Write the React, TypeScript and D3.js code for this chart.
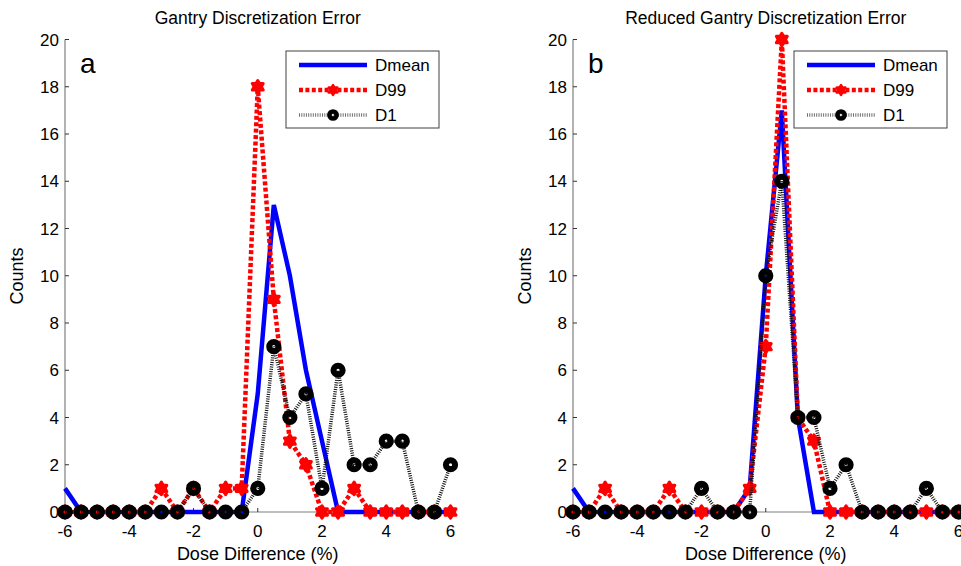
import React from "react";
import * as d3 from "d3";

const doseBins = [-6, -5.5, -5, -4.5, -4, -3.5, -3, -2.5, -2, -1.5, -1, -0.5, 0, 0.5, 1, 1.5, 2, 2.5, 3, 3.5, 4, 4.5, 5, 5.5, 6];

const dmeanA = [1, 0, 0, 0, 0, 0, 0, 0, 0, 0, 0, 0, 5, 13, 10, 6, 3, 0, 0, 0, 0, 0, 0, 0, 0];
const d99A = [0, 0, 0, 0, 0, 0, 1, 0, 1, 0, 1, 1, 18, 9, 3, 2, 0, 0, 1, 0, 0, 0, 0, 0, 0];
const d1A = [0, 0, 0, 0, 0, 0, 0, 0, 1, 0, 0, 0, 1, 7, 4, 5, 1, 6, 2, 2, 3, 3, 0, 0, 2];

const dmeanB = [1, 0, 0, 0, 0, 0, 0, 0, 0, 0, 0, 1, 10, 17, 4, 0, 0, 0, 0, 0, 0, 0, 0, 0, 0];
const d99B = [0, 0, 1, 0, 0, 0, 1, 0, 0, 0, 0, 1, 7, 20, 4, 3, 0, 0, 0, 0, 0, 0, 0, 0, 0];
const d1B = [0, 0, 0, 0, 0, 0, 0, 0, 1, 0, 0, 0, 10, 14, 4, 4, 1, 2, 0, 0, 0, 0, 1, 0, 0];

const xTicks = [-6, -4, -2, 0, 2, 4, 6];
const yTicks = [0, 2, 4, 6, 8, 10, 12, 14, 16, 18, 20];
const seriesNames = ["Dmean", "D99", "D1"];

const FONT = "'Liberation Sans', Arial, Helvetica, sans-serif";

function hexagram(R: number) {
  const r = R / Math.sqrt(3);
  const pts: [number, number][] = [];
  for (let i = 0; i < 12; i++) {
    const a = -Math.PI / 2 + (i * Math.PI) / 6;
    const rad = i % 2 === 0 ? R : r;
    pts.push([rad * Math.cos(a), rad * Math.sin(a)]);
  }
  return "M" + pts.map((p) => p[0].toFixed(2) + "," + p[1].toFixed(2)).join("L") + "Z";
}

type PanelProps = {
  x0: number;
  x1: number;
  title: string;
  letter: string;
  dmean: number[];
  d99: number[];
  d1: number[];
  legendX: number;
};

function Panel({ x0, x1, title, letter, dmean, d99, d1, legendX }: PanelProps) {
  const x = d3.scaleLinear().domain([-6, 6]).range([x0, x1]);
  const y = d3.scaleLinear().domain([0, 20]).range([512, 39.5]);
  const line = d3
    .line<number>()
    .x((_, i) => x(doseBins[i]))
    .y((d) => y(d));
  const star = hexagram(6.3);
  const starLegend = hexagram(5);
  const cx = (x0 + x1) / 2;
  const lw = 153;
  const ly = 51;
  const lh = 77;
  const rows = [65, 90, 115];
  const sx0 = legendX + 13;
  const sx1 = legendX + 81;
  const smid = (sx0 + sx1) / 2;
  return (
    <g>
      <text x={cx} y={24} textAnchor="middle" fontSize={17.5} fontFamily={FONT} fill="#000">
        {title}
      </text>
      {/* axes */}
      <line x1={x0} x2={x0} y1={y(20)} y2={y(0)} stroke="#7f7f7f" strokeWidth={1.2} />
      <line x1={x0} x2={x1} y1={y(0)} y2={y(0)} stroke="#7f7f7f" strokeWidth={1.2} />
      {yTicks.map((t) => (
        <g key={"y" + t}>
          <line x1={x0} x2={x0 + 4} y1={y(t)} y2={y(t)} stroke="#333" strokeWidth={1} />
          <text x={x0 - 6} y={y(t) + 6} textAnchor="end" fontSize={17} fontFamily={FONT}>
            {t}
          </text>
        </g>
      ))}
      {xTicks.map((t) => (
        <g key={"x" + t}>
          <line x1={x(t)} x2={x(t)} y1={y(0)} y2={y(0) - 4} stroke="#333" strokeWidth={1} />
          <text x={x(t)} y={537} textAnchor="middle" fontSize={17} fontFamily={FONT}>
            {t}
          </text>
        </g>
      ))}
      <text
        transform={`translate(${x0 - 42},276) rotate(-90)`}
        textAnchor="middle"
        fontSize={18}
        fontFamily={FONT}
      >
        Counts
      </text>
      <text x={cx} y={560} textAnchor="middle" fontSize={18} fontFamily={FONT}>
        Dose Difference (%)
      </text>
      <text x={x0 + 15} y={73} fontSize={28} fontFamily={FONT}>
        {letter}
      </text>

      {/* series */}
      <path d={line(dmean) || ""} fill="none" stroke="#0000ff" strokeWidth={4.5} strokeLinejoin="miter" />
      <path d={line(d99) || ""} fill="none" stroke="#ff0000" strokeWidth={4.5} strokeDasharray="4 2.4" />
      {d99.map((v, i) => (
        <path
          key={"s" + i}
          d={star}
          transform={`translate(${x(doseBins[i])},${y(v)})`}
          fill="#ff0000"
          stroke="#ff0000"
          strokeWidth={3}
          strokeLinejoin="round"
        />
      ))}
      <path d={line(d1) || ""} fill="none" stroke="#111" strokeWidth={3.5} strokeDasharray="1 1.3" />
      {d1.map((v, i) => (
        <circle key={"c" + i} cx={x(doseBins[i])} cy={y(v)} r={4.6} fill="none" stroke="#000" strokeWidth={6} />
      ))}

      {/* legend */}
      <rect x={legendX} y={ly} width={lw} height={lh} fill="#fff" stroke="#404040" strokeWidth={1} />
      <line x1={sx0} x2={sx1} y1={rows[0]} y2={rows[0]} stroke="#0000ff" strokeWidth={4.5} />
      <line x1={sx0} x2={sx1} y1={rows[1]} y2={rows[1]} stroke="#ff0000" strokeWidth={4.5} strokeDasharray="4 2.4" />
      <path d={starLegend} transform={`translate(${smid},${rows[1]})`} fill="#ff0000" stroke="#ff0000" strokeWidth={2.5} strokeLinejoin="round" />
      <line x1={sx0} x2={sx1} y1={rows[2]} y2={rows[2]} stroke="#111" strokeWidth={3.5} strokeDasharray="1 1.3" opacity={0.6} />
      <circle cx={smid} cy={rows[2]} r={3.6} fill="none" stroke="#000" strokeWidth={4.5} />
      {seriesNames.map((n, i) => (
        <text key={n} x={sx1 + 8} y={rows[i] + 6} fontSize={17} fontFamily={FONT}>
          {n}
        </text>
      ))}
    </g>
  );
}

export default function App() {
  return (
    <svg
      width={961}
      height={566}
      viewBox="0 0 961 566"
      style={{ position: "absolute", left: 0, top: 0, background: "#fff" }}
    >
      <rect x={0} y={0} width={961} height={566} fill="#fff" />
      <Panel
        x0={65}
        x1={450.5}
        title="Gantry Discretization Error"
        letter="a"
        dmean={dmeanA}
        d99={d99A}
        d1={d1A}
        legendX={286}
      />
      <Panel
        x0={573}
        x1={958.5}
        title="Reduced Gantry Discretization Error"
        letter="b"
        dmean={dmeanB}
        d99={d99B}
        d1={d1B}
        legendX={794}
      />
    </svg>
  );
}
